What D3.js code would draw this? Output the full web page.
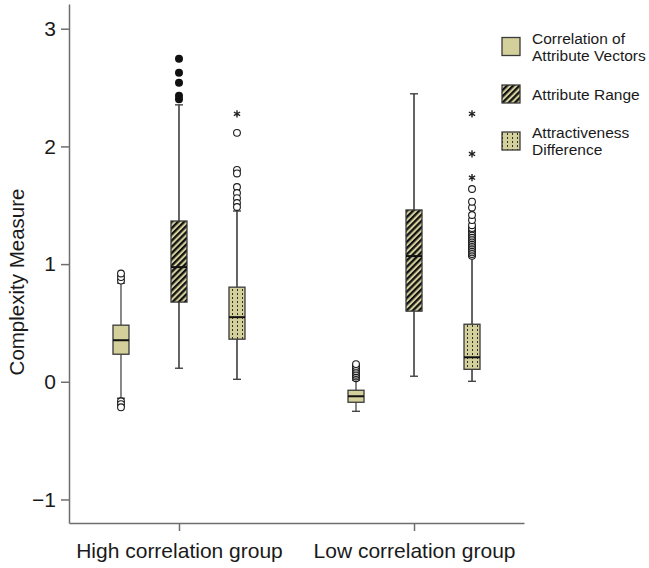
<!DOCTYPE html>
<html>
<head>
<meta charset="utf-8">
<script src="https://cdn.jsdelivr.net/npm/d3@7"></script>
<style>
  html, body { margin: 0; padding: 0; background: #fff; }
  svg text { font-family: "Liberation Sans", Arial, Helvetica, sans-serif; fill: #1a1a1a; }
</style>
</head>
<body>
<svg id="chart" width="649" height="568"></svg>
<script>
// Groups on the x axis and the three measures drawn in each group
const groups = ["High correlation group", "Low correlation group"];
const seriesNames = ["Correlation of Attribute Vectors", "Attribute Range", "Attractiveness Difference"];
const legendLines = [["Correlation of", "Attribute Vectors"], ["Attribute Range"], ["Attractiveness", "Difference"]];
const yTicks = [-1, 0, 1, 2, 3];

// Box-plot statistics, indexed [series][group]
const lowerWhisker = [[-0.14, -0.251], [0.115, 0.047], [0.021, 0.004]];
const q1 =           [[0.234, -0.174], [0.677, 0.600], [0.362, 0.106]];
const median =       [[0.353, -0.123], [0.974, 1.068], [0.549, 0.208]];
const q3 =           [[0.481, -0.072], [1.366, 1.460], [0.804, 0.489]];
const upperWhisker = [[0.838, 0.013], [2.353, 2.447], [1.451, 1.068]];

// Outliers (open circles), indexed [series][group]
const outliers = [
  [[0.86, 0.89, 0.92, -0.166, -0.19, -0.217],
   [0.03, 0.045, 0.06, 0.075, 0.09, 0.105, 0.12, 0.135, 0.15]],
  [[], []],
  [[2.115, 1.80, 1.77, 1.655, 1.604, 1.56, 1.519, 1.485],
   [1.07, 1.085, 1.10, 1.115, 1.13, 1.145, 1.16, 1.175, 1.19, 1.205, 1.22, 1.235,
    1.25, 1.265, 1.28, 1.295, 1.306, 1.33, 1.374, 1.417, 1.48, 1.53, 1.638]]
];
// Outliers drawn as solid dots
const solidOutliers = [[[], []], [[2.745, 2.626, 2.54, 2.43, 2.40], []], [[], []]];
// Extreme values (asterisks)
const extremes = [[[], []], [[], []], [[2.277], [2.277, 1.936, 1.734]]];

const fillColor = "#d4d09c";
const boxStroke = "#3a3a3a";

const svg = d3.select("#chart");
const defs = svg.append("defs");

// Diagonal hatching for "Attribute Range"
const hatch = defs.append("pattern")
  .attr("id", "hatch").attr("patternUnits", "userSpaceOnUse")
  .attr("width", 4.4).attr("height", 4.4)
  .attr("patternTransform", "rotate(45)");
hatch.append("rect").attr("width", 4.4).attr("height", 4.4).attr("fill", fillColor);
hatch.append("rect").attr("width", 2.3).attr("height", 4.4).attr("fill", "#111");

// Dotted fill for "Attractiveness Difference"
const dots = defs.append("pattern")
  .attr("id", "dots").attr("patternUnits", "userSpaceOnUse")
  .attr("width", 5).attr("height", 4);
dots.append("rect").attr("width", 5).attr("height", 4).attr("fill", fillColor);
dots.append("rect").attr("x", 2).attr("y", 1).attr("width", 1).attr("height", 2).attr("fill", "#2e2e28");

const fills = [fillColor, "url(#hatch)", "url(#dots)"];

// Scales
const y = d3.scaleLinear().domain([-1.2, 3.21]).range([523, 4]);
const x = d3.scalePoint().domain(groups).range([69, 524]).padding(0.468);
const xs = d3.scalePoint().domain(seriesNames).range([-58, 58]);
const boxW = 16;
const capW = 8;

// Y axis
const yAxis = svg.append("g").attr("transform", "translate(69,0)")
  .call(d3.axisLeft(y).tickValues(yTicks).tickSize(8).tickSizeOuter(0).tickPadding(5)
    .tickFormat(d => d < 0 ? "\u2212" + Math.abs(d) : d));
yAxis.select(".domain").attr("stroke", "#6e6e6e").attr("stroke-width", 1.5);
yAxis.selectAll(".tick line").attr("stroke", "#6e6e6e").attr("stroke-width", 1.5);
yAxis.selectAll(".tick text").attr("font-size", 21).attr("fill", "#1a1a1a");

// X axis
const xAxis = svg.append("g").attr("transform", "translate(0,523)")
  .call(d3.axisBottom(x).tickSize(8).tickSizeOuter(0).tickPadding(12));
xAxis.select(".domain").attr("stroke", "#6e6e6e").attr("stroke-width", 1.5);
xAxis.selectAll(".tick line").attr("stroke", "#6e6e6e").attr("stroke-width", 1.5);
xAxis.selectAll(".tick text").attr("font-size", 21).attr("fill", "#1a1a1a");

// Y axis title
svg.append("text")
  .attr("transform", "translate(24,282) rotate(-90)")
  .attr("text-anchor", "middle").attr("font-size", 20.5)
  .text("Complexity Measure");

// Boxes
const boxes = [];
seriesNames.forEach((s, si) => {
  groups.forEach((g, gi) => {
    boxes.push({ si, gi, cx: x(g) + xs(s) });
  });
});

const bg = svg.append("g");
boxes.forEach(b => {
  const { si, gi, cx } = b;
  const g = bg.append("g");
  const wc = si === 0 ? "#555" : "#222";
  // whiskers
  g.append("line").attr("x1", cx).attr("x2", cx)
    .attr("y1", y(upperWhisker[si][gi])).attr("y2", y(q3[si][gi]))
    .attr("stroke", wc).attr("stroke-width", 1.4);
  g.append("line").attr("x1", cx).attr("x2", cx)
    .attr("y1", y(q1[si][gi])).attr("y2", y(lowerWhisker[si][gi]))
    .attr("stroke", wc).attr("stroke-width", 1.4);
  [upperWhisker[si][gi], lowerWhisker[si][gi]].forEach(v => {
    g.append("line").attr("x1", cx - capW / 2).attr("x2", cx + capW / 2)
      .attr("y1", y(v)).attr("y2", y(v))
      .attr("stroke", "#444").attr("stroke-width", 1.4);
  });
  // box
  g.append("rect")
    .attr("x", cx - boxW / 2).attr("width", boxW)
    .attr("y", y(q3[si][gi])).attr("height", y(q1[si][gi]) - y(q3[si][gi]))
    .attr("fill", fills[si]).attr("stroke", boxStroke).attr("stroke-width", 1.3);
  // median
  g.append("line").attr("x1", cx - boxW / 2).attr("x2", cx + boxW / 2)
    .attr("y1", y(median[si][gi])).attr("y2", y(median[si][gi]))
    .attr("stroke", "#111").attr("stroke-width", 2);
  // outliers
  g.selectAll("circle.out").data(outliers[si][gi]).join("circle")
    .attr("class", "out").attr("cx", cx).attr("cy", d => y(d)).attr("r", 3.4)
    .attr("fill", "#fff").attr("stroke", "#1a1a1a").attr("stroke-width", 1.1);
  g.selectAll("circle.solid").data(solidOutliers[si][gi]).join("circle")
    .attr("class", "solid").attr("cx", cx).attr("cy", d => y(d)).attr("r", 4)
    .attr("fill", "#111");
  g.selectAll("path.ext").data(extremes[si][gi]).join("path")
    .attr("class", "ext")
    .attr("transform", d => `translate(${cx},${y(d)})`)
    .attr("d", d3.symbol(d3.symbolAsterisk, 36)())
    .attr("stroke", "#222").attr("stroke-width", 1.4).attr("fill", "none");
});

// Legend
const legendY = [46.5, 94, 141];
const lg = svg.append("g");
seriesNames.forEach((s, i) => {
  lg.append("rect").attr("x", 502).attr("y", legendY[i] - 9)
    .attr("width", 18).attr("height", 18)
    .attr("fill", fills[i]).attr("stroke", boxStroke).attr("stroke-width", 1.3);
  const lines = legendLines[i];
  const lh = 17;
  const t = lg.append("text").attr("font-size", 15.5).attr("x", 532);
  lines.forEach((ln, k) => {
    t.append("tspan").attr("x", 532)
      .attr("y", legendY[i] + (k - (lines.length - 1) / 2) * lh + 5.5)
      .text(ln);
  });
});
</script>
</body>
</html>
